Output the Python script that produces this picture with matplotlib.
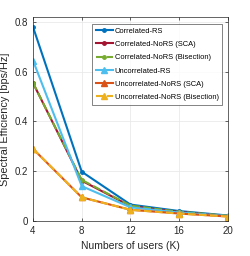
import matplotlib
matplotlib.use("Agg")
import matplotlib.pyplot as plt

plt.rcParams['font.family'] = ['Liberation Sans', 'DejaVu Sans']

users = [4, 8, 12, 16, 20]
corr_rs = [0.78, 0.198, 0.066, 0.04, 0.022]
corr_nors_sca = [0.555, 0.162, 0.06, 0.036, 0.02]
corr_nors_bis = [0.555, 0.165, 0.062, 0.037, 0.021]
uncorr_rs = [0.645, 0.14, 0.055, 0.034, 0.02]
uncorr_nors_sca = [0.29, 0.095, 0.045, 0.03, 0.018]
uncorr_nors_bis = [0.29, 0.095, 0.045, 0.03, 0.018]

fig = plt.figure(figsize=(2.51, 2.56), dpi=100)
ax = fig.add_axes([33/251, 1 - 221/256, 195/251, 204/256])

ax.plot(users, corr_rs, color='#0072BD', marker='o', ms=2.5, lw=1.5, label='Correlated-RS')
ax.plot(users, corr_nors_sca, color='#A2142F', marker='o', ms=2.5, lw=1.5, label='Correlated-NoRS (SCA)')
ax.plot(users, corr_nors_bis, color='#77AC30', marker='o', ms=2.5, lw=1.5, ls='--', label='Correlated-NoRS (Bisection)')
ax.plot(users, uncorr_rs, color='#4DBEEE', marker='^', ms=4.5, lw=1.5, label='Uncorrelated-RS')
ax.plot(users, uncorr_nors_sca, color='#D95319', marker='^', ms=4.5, lw=1.5, label='Uncorrelated-NoRS (SCA)')
ax.plot(users, uncorr_nors_bis, color='#EDB120', marker='^', ms=4.5, lw=1.5, ls='--', label='Uncorrelated-NoRS (Bisection)')

ax.set_xlim(4, 20)
ax.set_ylim(0, 0.82)
ax.set_xticks([4, 8, 12, 16, 20])
ax.set_yticks([0, 0.2, 0.4, 0.6, 0.8])
ax.set_yticklabels(['0', '0.2', '0.4', '0.6', '0.8'])
ax.tick_params(direction='in', top=True, right=True, labelsize=7, length=2.5, width=0.5, colors='#262626')
ax.grid(True, color='#e6e6e6', lw=0.5)
for s in ax.spines.values():
    s.set_linewidth(0.5)
    s.set_color('#262626')

ax.set_xlabel('Numbers of users (K)', fontsize=7.5, color='#262626')
ax.set_ylabel('Spectral Efficiency [bps/Hz]', fontsize=7.8, color='#262626', labelpad=3)

leg = ax.legend(loc='upper right', fontsize=5.4, frameon=True, fancybox=False,
                handlelength=2.3, borderpad=0.5, labelspacing=0.8, handletextpad=0.2,
                bbox_to_anchor=(0.99, 0.985))
leg.get_frame().set_edgecolor('#262626')
leg.get_frame().set_linewidth(0.5)

fig.savefig('out.png', dpi=100)
